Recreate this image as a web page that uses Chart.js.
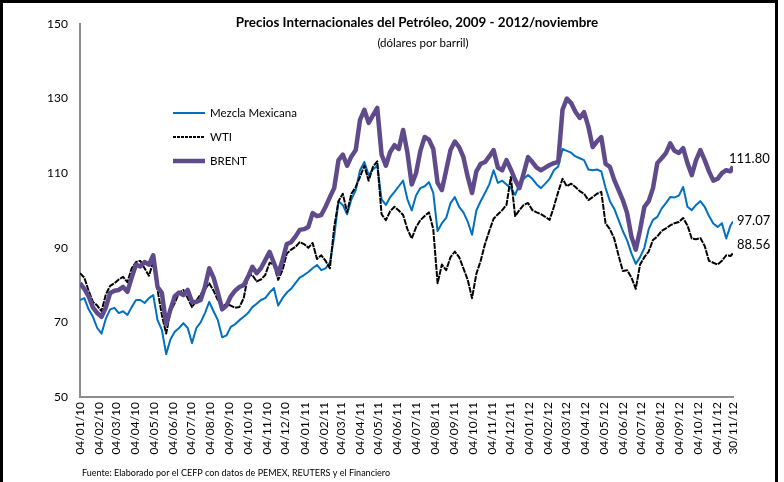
<!DOCTYPE html>
<html><head><meta charset="utf-8">
<script src="https://cdn.jsdelivr.net/npm/chart.js@4.4.1/dist/chart.umd.min.js"></script>
<style>html,body{margin:0;padding:0;background:#fff;}#wrap{position:relative;width:784px;height:482px;}</style>
</head><body><div id="wrap"><canvas id="c" width="784" height="482"></canvas></div>
<script>
const FONT = 'Lato, "Open Sans", sans-serif';

// x categories: weekly samples from 04/01/2010, last one 30/11/2012 (day offsets)
const startDate = Date.UTC(2010, 0, 4);
const lastDay = 1061;
const sampleDays = [...Array(152).keys()].map(i => i * 7).concat([lastDay]);

const tickLabels = ['04/01/10','04/02/10','04/03/10','04/04/10','04/05/10','04/06/10','04/07/10','04/08/10','04/09/10','04/10/10','04/11/10','04/12/10',
  '04/01/11','04/02/11','04/03/11','04/04/11','04/05/11','04/06/11','04/07/11','04/08/11','04/09/11','04/10/11','04/11/11','04/12/11',
  '04/01/12','04/02/12','04/03/12','04/04/12','04/05/12','04/06/12','04/07/12','04/08/12','04/09/12','04/10/12','04/11/12','30/11/12'];
const yTicks = [50, 70, 90, 110, 130, 150];

const seriesNames = ['Mezcla Mexicana', 'WTI', 'BRENT'];

const mezcla = [
76.0,76.5,73.5,71.5,68.5,67.0,71.0,73.5,73.9,72.5,
73.0,72.0,74.1,76.0,76.0,75.2,76.5,77.3,70.6,68.0,
61.5,65.5,67.5,68.5,69.8,68.5,64.5,68.5,70.0,72.5,
75.5,73.0,70.6,66.0,66.5,68.8,69.5,70.6,71.5,72.5,
74.1,75.0,76.0,76.5,78.0,79.2,74.5,76.5,78.0,79.0,
80.5,82.0,82.7,83.5,84.5,85.4,84.0,84.5,86.0,93.0,
102.5,101.5,99.0,103.0,105.5,110.8,113.0,109.5,111.0,112.0,
103.0,101.5,103.6,105.0,106.5,108.0,103.0,100.0,104.0,106.0,
106.5,107.6,104.7,94.5,96.6,98.0,102.0,103.6,101.0,99.5,
97.0,93.5,100.0,102.5,104.7,107.0,110.8,107.4,108.0,107.0,
106.0,104.2,107.0,108.5,109.5,108.5,107.0,106.0,107.2,108.5,
110.8,111.8,116.5,116.0,115.5,114.5,114.0,113.5,111.0,110.8,
111.0,110.5,106.0,102.5,100.5,97.5,94.5,92.0,88.5,85.7,
87.5,90.0,95.0,97.5,98.3,100.5,102.0,103.6,103.5,104.0,
106.3,101.0,100.1,101.5,102.5,101.0,98.5,96.5,95.6,96.6,
92.5,96.0,97.07];

const wti = [
83.2,82.0,78.5,75.5,74.5,73.0,77.5,79.8,80.5,81.5,
82.2,80.8,84.5,86.2,86.5,84.5,82.5,86.2,78.7,72.0,
67.0,73.0,75.2,78.0,78.7,76.5,74.1,75.8,77.5,78.9,
80.5,78.5,76.0,74.2,75.0,74.5,73.9,74.1,76.5,82.5,
82.7,81.0,81.5,82.7,86.0,85.5,81.4,84.0,88.5,89.5,
90.2,91.5,91.0,90.0,91.3,87.0,88.0,86.5,84.5,95.5,
102.5,104.5,99.5,104.5,106.3,109.0,112.0,108.0,111.7,113.2,
99.0,97.4,99.8,101.0,100.0,98.8,95.0,92.5,95.5,97.4,
98.5,99.5,95.0,80.5,85.5,84.0,87.5,89.0,87.5,84.5,
81.4,76.5,83.0,86.5,91.0,94.5,97.8,99.0,100.1,101.5,
109.0,98.5,100.1,101.5,102.0,100.1,99.5,99.0,98.3,97.5,
101.0,105.0,108.5,106.5,107.2,106.3,105.2,104.5,102.8,103.6,
104.5,105.0,96.5,95.0,92.5,88.0,83.8,84.0,82.0,79.0,
85.5,87.5,89.0,92.1,93.0,94.5,95.2,96.0,96.6,96.9,
98.0,96.0,92.5,92.3,92.6,90.5,86.5,86.0,85.5,86.5,
88.0,87.8,88.56];

const brent = [
80.5,79.0,77.0,74.0,72.5,71.5,74.0,77.9,78.5,78.7,
79.5,78.2,82.0,85.5,85.0,86.2,85.5,88.0,79.5,77.9,
69.5,73.5,77.0,78.0,77.3,78.7,75.5,75.5,76.0,79.5,
84.5,82.0,78.0,73.5,74.5,77.0,78.5,79.5,80.0,82.2,
84.9,83.2,84.5,86.7,88.9,86.0,83.0,86.7,91.0,91.5,
93.0,94.8,95.0,95.6,99.3,98.5,98.8,101.0,103.6,106.0,
113.5,115.0,112.0,114.5,116.2,124.3,127.0,123.5,125.5,127.5,
115.0,112.0,115.7,117.5,116.5,121.6,115.5,107.0,110.0,116.0,
119.7,119.0,116.5,107.4,105.5,110.8,116.2,118.5,117.0,114.3,
109.0,104.7,110.5,112.5,113.0,114.5,116.2,111.5,110.8,113.5,
111.0,108.2,106.0,110.0,114.3,113.0,111.5,110.8,111.5,112.2,
112.7,113.0,127.0,130.0,128.8,126.5,124.8,126.4,122.5,117.0,
118.5,119.7,112.5,111.7,108.2,105.5,102.8,99.3,93.0,89.5,
94.8,101.0,102.5,106.0,112.7,114.0,115.4,118.0,116.0,115.4,
116.7,112.7,109.5,113.5,116.2,113.5,110.5,108.0,108.5,110.0,
110.8,110.5,111.80];

function dayOf(lbl) {
  const [d, m, y] = lbl.split('/').map(Number);
  return Math.round((Date.UTC(2000 + y, m - 1, d) - startDate) / 86400000);
}
const tickDays = tickLabels.map(dayOf);
const toXY = arr => arr.map((v, i) => ({ x: sampleDays[i], y: v }));

const decor = {
  id: 'decor',
  afterDraw(chart) {
    const c = chart.ctx;
    c.save();
    // frame
    c.fillStyle = '#000';
    c.fillRect(0, 0, 3, 482);
    c.fillRect(0, 0, 778, 3);
    c.fillRect(775, 0, 3, 482);
    // title
    c.fillStyle = '#000';
    c.textAlign = 'center';
    c.textBaseline = 'middle';
    c.font = 'bold 13.4px ' + FONT;
    c.fillText('Precios Internacionales del Petróleo, 2009 - 2012/noviembre', 417, 23);
    c.font = '11.5px ' + FONT;
    c.fillText('(dólares por barril)', 423, 43);
    // footer
    c.textAlign = 'left';
    c.font = '9px ' + FONT;
    c.fillText('Fuente: Elaborado por el CEFP con datos de PEMEX, REUTERS y el Financiero', 82, 473);
    // legend
    const legY = [113, 137, 161];
    c.font = '11.5px ' + FONT;
    chart.data.datasets.forEach((ds, i) => {
      c.save();
      c.strokeStyle = ds.borderColor;
      c.lineWidth = ds.borderWidth;
      c.setLineDash(ds.borderDash ? [3, 1] : []);
      c.beginPath();
      c.moveTo(173, legY[i]);
      c.lineTo(205, legY[i]);
      c.stroke();
      c.restore();
      c.fillStyle = '#000';
      c.fillText(ds.label, 210, legY[i]);
    });
    // end value labels
    const offs = [[4, -1], [4, -8], [-4, -7.5]];
    c.font = '13px ' + FONT;
    c.textAlign = 'left';
    chart.data.datasets.forEach((ds, i) => {
      const meta = chart.getDatasetMeta(i);
      const p = meta.data[meta.data.length - 1];
      const v = ds.data[ds.data.length - 1].y;
      c.fillText(v.toFixed(2), p.x + offs[i][0], p.y + offs[i][1]);
    });
    c.restore();
  }
};

new Chart(document.getElementById('c').getContext('2d'), {
  type: 'line',
  data: {
    datasets: [
      { label: seriesNames[0], data: toXY(mezcla), borderColor: '#0070C0', borderWidth: 2, order: 2 },
      { label: seriesNames[1], data: toXY(wti), borderColor: '#000000', borderWidth: 2, borderDash: [6, 1], order: 1 },
      { label: seriesNames[2], data: toXY(brent), borderColor: '#5F4B8B', borderWidth: 4.5, order: 0 }
    ]
  },
  options: {
    responsive: false,
    animation: false,
    devicePixelRatio: 1,
    layout: { padding: { left: 0, right: 51, top: 24, bottom: 22 } },
    plugins: { legend: { display: false }, tooltip: { enabled: false } },
    elements: { point: { radius: 0 }, line: { tension: 0, borderJoinStyle: 'round' } },
    scales: {
      x: {
        type: 'linear', min: 0, max: lastDay,
        afterBuildTicks: s => { s.ticks = tickDays.map(v => ({ value: v })); },
        afterFit: s => { s.height = 63; },
        ticks: { autoSkip: false, minRotation: 90, maxRotation: 90, padding: 5,
          callback: (v, i) => tickLabels[i], font: { family: FONT, size: 12 }, color: '#000' },
        grid: { display: false, drawTicks: false },
        border: { display: true, color: '#8C8C8C', width: 2 }
      },
      y: {
        min: 50, max: 150,
        afterBuildTicks: s => { s.ticks = yTicks.map(v => ({ value: v })); },
        afterFit: s => { s.width = 80; },
        ticks: { padding: 12, font: { family: FONT, size: 12 }, color: '#000' },
        grid: { display: false, drawTicks: false },
        border: { display: true, color: '#8C8C8C', width: 2 }
      }
    }
  },
  plugins: [decor]
});
</script>
</body></html>
